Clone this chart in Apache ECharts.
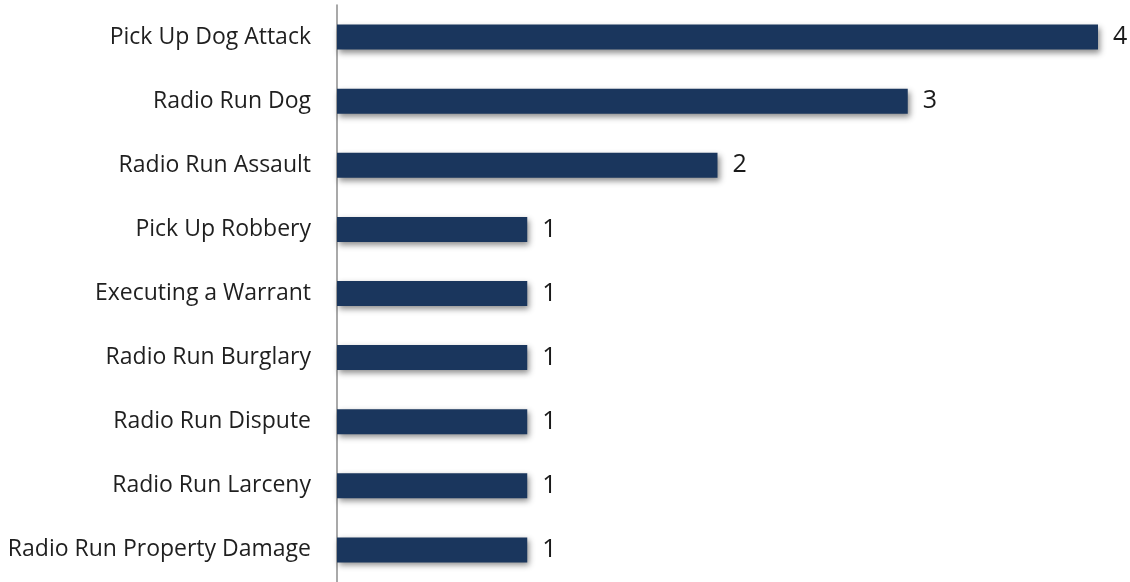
<!DOCTYPE html>
<html>
<head>
<meta charset="utf-8">
<script src="https://cdn.jsdelivr.net/npm/echarts@6/dist/echarts.min.js"></script>
<style>
  html, body { margin: 0; padding: 0; background: #fff; }
  #chart { width: 1130px; height: 582px; }
</style>
</head>
<body>
<div id="chart"></div>
<script>
// categories listed bottom-to-top (ECharts category axis order)
const categories = [
  "Radio Run Property Damage",
  "Radio Run Larceny",
  "Radio Run Dispute",
  "Radio Run Burglary",
  "Executing a Warrant",
  "Pick Up Robbery",
  "Radio Run Assault",
  "Radio Run Dog",
  "Pick Up Dog Attack"
];
const counts = [1, 1, 1, 1, 1, 1, 2, 3, 4];

const chart = echarts.init(document.getElementById("chart"));

const option = {
  animation: false,
  grid: {
    left: 337,
    right: 32,
    top: 5,
    height: 583
  },
  xAxis: {
    type: "value",
    min: 0,
    max: 4,
    show: false
  },
  yAxis: {
    type: "category",
    data: categories,
    axisLine: { lineStyle: { color: "#8c8c8c", width: 1.5 } },
    axisTick: { show: false },
    axisLabel: {
      margin: 26,
      color: "#1f1f1f",
      fontSize: 23,
      fontFamily: "Open Sans"
    }
  },
  series: [
    {
      type: "bar",
      data: counts,
      barWidth: 25,
      itemStyle: {
        color: "#1a365d",
        shadowColor: "rgba(0,0,0,0.45)",
        shadowBlur: 6,
        shadowOffsetX: 2,
        shadowOffsetY: 3
      },
      label: {
        show: true,
        position: "right",
        distance: 15,
        color: "#1a1a1a",
        fontSize: 25,
        fontFamily: "Open Sans"
      }
    }
  ]
};

chart.setOption(option);
</script>
</body>
</html>
